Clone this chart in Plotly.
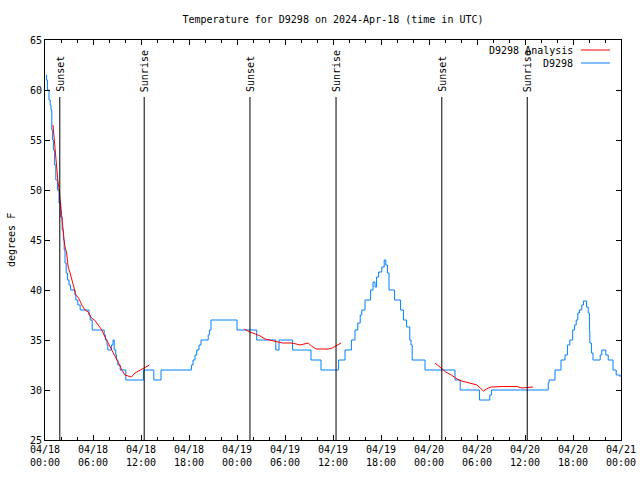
import pandas as pd
import plotly.graph_objects as go

BASE = pd.Timestamp("2024-04-18 00:00")

# D9298 observations: hours after 04/18 00:00 UTC, temperature (F)
obs_hours = [0.1, 0.2, 0.3, 0.5, 0.65, 0.75, 0.85, 0.95, 1.05, 1.2, 1.35, 1.55, 1.75, 1.95,
             2.15, 2.3, 2.4, 2.5, 2.65, 2.8, 3.0, 3.2, 3.75, 3.85, 4.1, 4.4, 5.5, 5.65, 5.9,
             7.4, 7.55, 7.75, 7.85, 8.3, 8.5, 8.65, 8.85, 8.95, 9.1, 9.4, 10.1, 12.3, 13.6,
             14.5, 18.3, 18.5, 18.75, 18.97, 19.25, 19.5, 20.4, 20.55, 20.75, 24.0, 26.46,
             28.85, 29.25, 30.95, 33.25, 34.5, 36.7, 37.5, 38.3, 38.75, 39.1, 39.4, 39.6,
             40.0, 40.7, 41.0, 41.25, 41.45, 41.7, 42.1, 42.4, 42.6, 42.8, 43.0,
             43.7, 44.45, 44.8, 45.2, 45.6, 45.75, 45.9, 47.5, 51.25, 51.9, 54.3, 55.6, 55.8,
             62.9, 63.0, 63.75, 64.5, 65.0, 65.3, 65.6, 65.96, 66.2, 66.4, 66.6, 66.8, 67.1,
             67.3, 67.7, 67.9, 68.05, 68.1, 68.3, 68.5, 69.4, 69.6, 70.1, 70.4, 71.0, 71.4, 71.9]
obs_temps = [61.5, 61, 60, 59, 58.5, 58, 56, 55, 54, 52.5, 51, 50, 48.7, 47.3,
             46, 45, 44, 42.7, 41.7, 41, 40.5, 40, 39.5, 39, 38.5, 38, 37.5, 37, 36,
             35.5, 35, 34.5, 34, 34.5, 35, 34, 33.5, 33, 32.5, 32, 31, 32, 31,
             32, 32.5, 33, 33.5, 34, 34.5, 35, 35.5, 36, 37, 36, 35,
             34, 35, 34, 33, 32, 33, 34, 35, 36, 36.7, 37.5, 38,
             39, 40, 40.8, 40.3, 41.3, 41.8, 42.3, 43, 42.5, 41.7, 40,
             39, 38, 37, 36.3, 35, 34.5, 33, 32, 31, 30, 29, 29.5, 30,
             30.7, 31, 32, 33, 33.5, 34.5, 35, 36, 36.5, 37, 37.7, 38, 38.5,
             38.9, 38.3, 37.7, 36, 34.7, 33.7, 33, 33.5, 34, 33.5, 33, 32, 31.5, 31.3]

# D9298 Analysis (three segments)
ana1_hours = [1.0, 1.1, 1.3, 1.6, 1.8, 2.0, 2.15, 2.3, 2.45, 2.7, 2.9, 3.1, 3.33, 3.6, 3.85,
              4.2, 4.6, 5.0, 5.4, 5.8, 6.2, 6.7, 7.1, 7.5, 7.9, 8.3, 8.75, 9.2, 9.6, 10.0,
              10.4, 10.8, 11.25, 11.9, 12.5, 13.05]
ana1_temps = [56.5, 55.5, 54, 51, 49.8, 48.2, 47.2, 45.5, 44.5, 43.7, 42.3, 41.8, 41.2, 40.3, 39.5,
              39.2, 38.5, 38, 37.8, 37.2, 37, 36.5, 36, 35.3, 34.7, 34.2, 33.5, 32.7, 32, 31.5,
              31.4, 31.3, 31.7, 32, 32.3, 32.5]
ana2_hours = [24.9, 25.6, 26.3, 26.9, 27.5, 28.0, 28.95, 29.7, 30.9, 31.9, 32.9, 33.3, 33.9,
              35.4, 35.9, 36.4, 37.0]
ana2_temps = [36.1, 35.8, 35.6, 35.4, 35.1, 35, 34.8, 34.7, 34.7, 34.5, 34.7, 34.4, 34.1,
              34.1, 34.2, 34.4, 34.7]
ana3_hours = [48.75, 49.6, 50.1, 50.8, 51.5, 52.1, 53.1, 54.0, 54.4, 54.8, 55.4, 55.8, 57.3,
              59.0, 59.6, 61.0]
ana3_temps = [32.7, 32.1, 31.8, 31.5, 31.1, 30.9, 30.7, 30.5, 30.2, 29.9, 30.2, 30.3, 30.35,
              30.35, 30.2, 30.3]

sun_labels = ["Sunset", "Sunrise", "Sunset", "Sunrise", "Sunset", "Sunrise"]
sun_hours = [1.85, 12.4, 25.62, 36.38, 49.6, 60.28]

title_text = "Temperature for D9298 on 2024-Apr-18 (time in UTC)"
y_label = "degrees F"
legend_names = ["D9298 Analysis", "D9298"]
RED = "#ff0000"
BLUE = "#0080ff"
FONT = dict(family="DejaVu Sans Mono, monospace", size=10, color="black")

FIG_W, FIG_H = 640, 480
ML, MR, MT, MB = 45, 19, 40, 40
W, H = FIG_W - ML - MR, FIG_H - MT - MB


def to_time(hours):
    return [BASE + pd.Timedelta(hours=h) if h is not None else None for h in hours]


ana_hours = ana1_hours + [None] + ana2_hours + [None] + ana3_hours
ana_temps = ana1_temps + [None] + ana2_temps + [None] + ana3_temps

fig = go.Figure()
fig.add_trace(go.Scatter(x=to_time(obs_hours), y=obs_temps, mode="lines",
                         line=dict(color=BLUE, width=1, shape="hv"), name=legend_names[1]))
fig.add_trace(go.Scatter(x=to_time(ana_hours), y=ana_temps, mode="lines",
                         line=dict(color=RED, width=1), name=legend_names[0],
                         connectgaps=False))

Y_MIN, Y_MAX = 25, 65
LINE_TOP = 59.3
for lab, h in zip(sun_labels, sun_hours):
    t = BASE + pd.Timedelta(hours=h)
    fig.add_shape(type="line", xref="x", yref="y", x0=t, x1=t, y0=Y_MIN, y1=LINE_TOP,
                  line=dict(color="black", width=1))
    fig.add_annotation(x=t, y=LINE_TOP + 0.3, xref="x", yref="y", text=lab, textangle=-90,
                       showarrow=False, xanchor="center", yanchor="bottom", font=FONT)

# custom gnuplot-style legend (text then line sample)
for i, (name, col) in enumerate(zip(legend_names, [RED, BLUE])):
    ypx = 10 + 13 * i
    yp = 1 - ypx / H
    fig.add_annotation(x=(575 - 45) / W, y=yp, xref="paper", yref="paper", text=name,
                       showarrow=False, xanchor="right", yanchor="middle", font=FONT)
    fig.add_shape(type="line", xref="paper", yref="paper", x0=(581 - 45) / W, x1=(610 - 45) / W,
                  y0=yp, y1=yp, line=dict(color=col, width=1))

fig.add_annotation(x=-(45 - 11) / W, y=0.5, xref="paper", yref="paper", text=y_label,
                   textangle=-90, showarrow=False, xanchor="center", yanchor="middle", font=FONT)

fig.update_layout(
    width=FIG_W, height=FIG_H,
    margin=dict(l=ML, r=MR, t=MT, b=MB, autoexpand=False),
    paper_bgcolor="white", plot_bgcolor="white",
    showlegend=False,
    font=FONT,
    title=dict(text=title_text, x=(ML + W / 2) / FIG_W, xanchor="center",
               y=1 - 19 / FIG_H, yanchor="middle", font=FONT),
)
fig.update_xaxes(
    type="date",
    range=[BASE, BASE + pd.Timedelta(hours=72)],
    dtick=6 * 3600 * 1000, tick0=BASE,
    tickformat="%m/%d<br>%H:%M",
    ticks="inside", ticklen=5, tickcolor="black", tickwidth=1,
    minor=dict(dtick=2 * 3600 * 1000, ticks="inside", ticklen=3, tickcolor="black", showgrid=False),
    showline=True, linecolor="black", linewidth=1, mirror="ticks",
    showgrid=False, zeroline=False, tickfont=FONT, automargin=False,
)
fig.update_yaxes(
    range=[Y_MIN, Y_MAX], dtick=5, tick0=0,
    ticks="inside", ticklen=5, tickcolor="black", tickwidth=1,
    showline=True, linecolor="black", linewidth=1, mirror="ticks",
    showgrid=False, zeroline=False, tickfont=FONT, automargin=False,
)

fig.write_html("out.html", config={"displayModeBar": False},
               post_script="document.body.style.margin='0';")
